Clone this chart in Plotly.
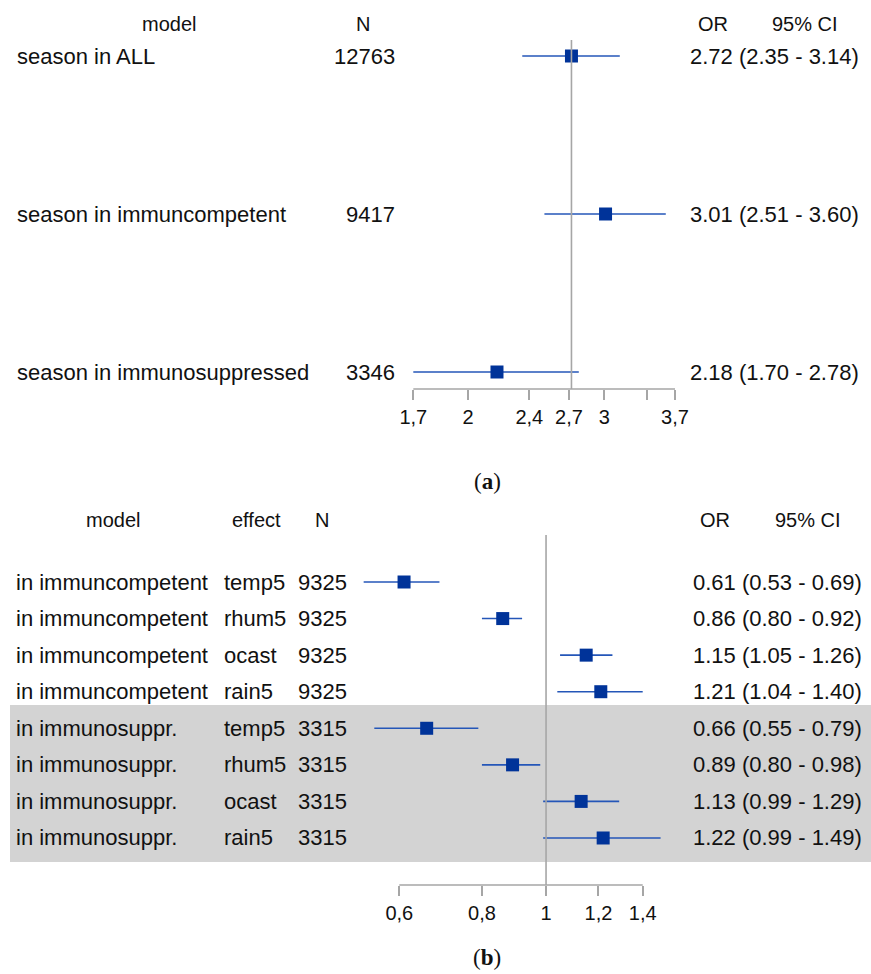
import math
import plotly.graph_objects as go

# ---------------- data ----------------
a_models = ["season in ALL", "season in immuncompetent", "season in immunosuppressed"]
a_n = [12763, 9417, 3346]
a_or = [2.72, 3.01, 2.18]
a_lo = [2.35, 2.51, 1.70]
a_hi = [3.14, 3.60, 2.78]
a_ref = 2.72
a_tickvals = [1.7, 2, 2.4, 2.7, 3, 3.4, 3.7]
a_ticktext = ["1,7", "2", "2,4", "2,7", "3", "", "3,7"]

b_models = ["in immuncompetent"] * 4 + ["in immunosuppr."] * 4
b_effects = ["temp5", "rhum5", "ocast", "rain5"] * 2
b_n = [9325] * 4 + [3315] * 4
b_or = [0.61, 0.86, 1.15, 1.21, 0.66, 0.89, 1.13, 1.22]
b_lo = [0.53, 0.80, 1.05, 1.04, 0.55, 0.80, 0.99, 0.99]
b_hi = [0.69, 0.92, 1.26, 1.40, 0.79, 0.98, 1.29, 1.49]
b_ref = 1.0
b_tickvals = [0.6, 0.8, 1, 1.2, 1.4]
b_ticktext = ["0,6", "0,8", "1", "1,2", "1,4"]

# ---------------- layout helpers ----------------
W, H = 871, 974
FONT = "Liberation Sans, Arial, sans-serif"
BODY = 22
HEAD = 20
TICK = 20
MARK = "#003399"
CI = "#2456b8"
GRAY = "#a6a6a6"


def log_range(v1, p1, v2, p2):
    k = (p2 - p1) / (math.log10(v2) - math.log10(v1))
    l0 = math.log10(v1) - p1 / k
    return [l0, l0 + W / k]


def y_setup(row0, step, top, bottom):
    dom = [1 - bottom / H, 1 - top / H]
    rng = [(bottom - row0) / step, (top - row0) / step]
    return dom, rng


def yv(px, row0, step):
    return (px - row0) / step


# panel a geometry
A_ROW0, A_STEP, A_TOP, A_AX = 56, 158, 0, 389
a_dom, a_rng = y_setup(A_ROW0, A_STEP, A_TOP, A_AX)
a_xr = log_range(1.7, 413.3, 3.7, 675)
# panel b geometry
B_ROW0, B_STEP, B_TOP, B_AX = 582, 36.57, 470, 885
b_dom, b_rng = y_setup(B_ROW0, B_STEP, B_TOP, B_AX)
b_xr = log_range(0.6, 399.3, 1.4, 642.7)

fig = go.Figure()

a_rows = list(range(len(a_or)))
b_rows = list(range(len(b_or)))

fig.add_trace(go.Scatter(
    x=a_or, y=a_rows, mode="markers", xaxis="x", yaxis="y",
    marker=dict(symbol="square", size=13, color=MARK, line=dict(width=0)),
    error_x=dict(type="data", symmetric=False,
                 array=[h - o for h, o in zip(a_hi, a_or)],
                 arrayminus=[o - l for o, l in zip(a_or, a_lo)],
                 width=0, thickness=1.6, color=CI),
    showlegend=False, hoverinfo="skip"))

fig.add_trace(go.Scatter(
    x=b_or, y=b_rows, mode="markers", xaxis="x2", yaxis="y2",
    marker=dict(symbol="square", size=13, color=MARK, line=dict(width=0)),
    error_x=dict(type="data", symmetric=False,
                 array=[h - o for h, o in zip(b_hi, b_or)],
                 arrayminus=[o - l for o, l in zip(b_or, b_lo)],
                 width=0, thickness=1.6, color=CI),
    showlegend=False, hoverinfo="skip"))

ann = []


def txt(x_px, y, yref, text, anchor, size=BODY):
    ann.append(dict(x=x_px / W, xref="paper", y=y, yref=yref, text=text,
                    showarrow=False, xanchor=anchor, yanchor="middle",
                    font=dict(family=FONT, size=size, color="#111111")))


# ---- panel a text
ha = yv(24, A_ROW0, A_STEP)
txt(169, ha, "y", "model", "center", HEAD)
txt(363, ha, "y", "N", "center", HEAD)
txt(713, ha, "y", "OR", "center", HEAD)
txt(805, ha, "y", "95% CI", "center", HEAD)
for i in a_rows:
    txt(15, i, "y", a_models[i], "left")
    txt(397, i, "y", str(a_n[i]), "right")
    txt(688, i, "y", f"{a_or[i]:.2f} ({a_lo[i]:.2f} - {a_hi[i]:.2f})", "left")

# ---- panel b text
hb = yv(520, B_ROW0, B_STEP)
txt(113, hb, "y2", "model", "center", HEAD)
txt(256, hb, "y2", "effect", "center", HEAD)
txt(322, hb, "y2", "N", "center", HEAD)
txt(715, hb, "y2", "OR", "center", HEAD)
txt(808, hb, "y2", "95% CI", "center", HEAD)
for i in b_rows:
    txt(14, i, "y2", b_models[i], "left")
    txt(222, i, "y2", b_effects[i], "left")
    txt(296, i, "y2", str(b_n[i]), "left")
    txt(691, i, "y2", f"{b_or[i]:.2f} ({b_lo[i]:.2f} - {b_hi[i]:.2f})", "left")

# sub-figure labels
for lab, py in (("a", 481), ("b", 957)):
    ann.append(dict(x=487 / W, xref="paper", y=1 - py / H, yref="paper",
                    text=f"(<b>{lab}</b>)", showarrow=False, xanchor="center",
                    yanchor="middle",
                    font=dict(family="Liberation Serif, Times New Roman, serif",
                              size=23, color="#111111")))

shapes = [
    # shaded block for immunosuppressed rows
    dict(type="rect", xref="paper", yref="y2", x0=10 / W, x1=1,
         y0=yv(705, B_ROW0, B_STEP), y1=yv(862, B_ROW0, B_STEP),
         fillcolor="#d3d3d3", line=dict(width=0), layer="below"),
    # reference lines
    dict(type="line", xref="x", yref="y", x0=a_ref, x1=a_ref,
         y0=yv(40, A_ROW0, A_STEP), y1=a_rng[0],
         line=dict(color=GRAY, width=1.6), layer="above"),
    dict(type="line", xref="x2", yref="y2", x0=b_ref, x1=b_ref,
         y0=yv(535, B_ROW0, B_STEP), y1=b_rng[0],
         line=dict(color=GRAY, width=1.6), layer="above"),
    # axis baselines between the extreme ticks
    dict(type="line", xref="x", yref="y domain", x0=a_tickvals[0], x1=a_tickvals[-1],
         y0=0, y1=0, line=dict(color=GRAY, width=1.6)),
    dict(type="line", xref="x2", yref="y2 domain", x0=b_tickvals[0], x1=b_tickvals[-1],
         y0=0, y1=0, line=dict(color=GRAY, width=1.6)),
]

axis_common = dict(type="log", showline=False, showgrid=False, zeroline=False,
                   ticks="outside", ticklen=10, tickwidth=1.6, tickcolor=GRAY,
                   tickfont=dict(family=FONT, size=TICK, color="#111111"),
                   domain=[0, 1], fixedrange=True)

fig.update_layout(
    width=W, height=H, margin=dict(l=0, r=0, t=0, b=0),
    paper_bgcolor="white", plot_bgcolor="rgba(0,0,0,0)",
    xaxis=dict(range=a_xr, tickvals=a_tickvals, ticktext=a_ticktext,
               anchor="y", **axis_common),
    yaxis=dict(domain=a_dom, range=a_rng, visible=False, anchor="x", fixedrange=True),
    xaxis2=dict(range=b_xr, tickvals=b_tickvals, ticktext=b_ticktext,
                anchor="y2", **axis_common),
    yaxis2=dict(domain=b_dom, range=b_rng, visible=False, anchor="x2", fixedrange=True),
    annotations=ann, shapes=shapes,
)

fig.write_html("out.html", config={"displayModeBar": False},
               post_script="document.body.style.margin='0';")
